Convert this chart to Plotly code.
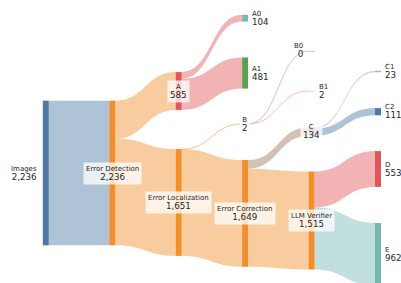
import plotly.graph_objects as go

# ---- data ----
node_names = ["Images", "Error Detection", "A", "Error Localization", "A0", "A1", "B",
              "Error Correction", "B0", "B1", "C", "LLM Verifier", "C1", "C2", "D", "E"]
link_source = [0, 1, 1, 2, 2, 3, 3, 6, 6, 7, 7, 10, 10, 11, 11]
link_target = [1, 2, 3, 4, 5, 6, 7, 8, 9, 10, 11, 12, 13, 14, 15]
link_value = [2236, 585, 1651, 104, 481, 2, 1649, 0, 2, 134, 1515, 23, 111, 553, 962]

# ---- styles / layout ----
W, H = 401, 283
node_colors = ["#4e79a7", "#f28e2b", "#e15759", "#f28e2b", "#76b7b2", "#59a14f", "#ff9da7",
               "#f28e2b", "#b07aa1", "#ff9da7", "#9c755f", "#f28e2b", "#bab0ac", "#4e79a7",
               "#e15759", "#76b7b2"]
BLUE = "rgba(78,121,167,0.45)"
ORANGE = "rgba(242,142,43,0.45)"
RED = "rgba(225,87,89,0.45)"
TEAL = "rgba(118,183,178,0.45)"
BROWN = "rgba(156,117,95,0.45)"
link_colors = [BLUE, ORANGE, ORANGE, RED, RED, "rgba(242,142,43,0.3)", ORANGE,
               "rgba(176,122,161,0.28)", "rgba(255,157,167,0.4)",
               BROWN, ORANGE, "rgba(140,120,110,0.35)", BLUE, RED, TEAL]

node_col = [0, 1, 2, 2, 3, 3, 3, 3, 4, 4, 4, 4, 5, 5, 5, 5]
node_center_px = [173, 173, 91, 202.5, 18.2, 73, 124, 213.4, 51, 91, 131.5, 220.5,
                  71.5, 111.7, 169, 254.1]
col_left_px, col_step_px = 45.8, 66.44
thickness = 6
px_per_unit = 0.06468
max_col_nodes = 8
pad = (H - px_per_unit * 2236) / (max_col_nodes - 1)

node_x = [(col_left_px + c * col_step_px) / W for c in node_col]
node_y = [p / H for p in node_center_px]

# node values from links
n = len(node_names)
inflow = [0] * n
outflow = [0] * n
for s, t, v in zip(link_source, link_target, link_value):
    outflow[s] += v
    inflow[t] += v
node_val = [max(a, b) for a, b in zip(inflow, outflow)]

draw_values = [max(v, 1e-3) for v in link_value]

fig = go.Figure(go.Sankey(
    arrangement="fixed",
    domain=dict(x=[0, 1], y=[0, 1]),
    node=dict(label=node_names, color=node_colors, x=node_x, y=node_y,
              pad=pad, thickness=thickness, line=dict(width=0)),
    link=dict(source=link_source, target=link_target, value=draw_values,
              color=link_colors, line=dict(width=0)),
    textfont=dict(color="rgba(0,0,0,0)", size=1),
))

font = dict(family="DejaVu Sans", size=7, color="#262626")
for i in range(n):
    txt = f"{node_names[i]}<br><span style='font-size:8.7px'>{node_val[i]:,}</span>"
    ax = node_x[i]
    ay = 1 - node_y[i]
    if inflow[i] == 0:
        fig.add_annotation(x=ax, y=ay, xref="paper", yref="paper", text=txt, showarrow=False,
                           xanchor="right", yanchor="middle", align="right", xshift=-7.5,
                           font=font, borderpad=0)
    elif outflow[i] == 0:
        fig.add_annotation(x=ax, y=ay, xref="paper", yref="paper", text=txt, showarrow=False,
                           xanchor="left", yanchor="middle", align="left", xshift=6,
                           font=font, borderpad=0)
    else:
        fig.add_annotation(x=ax, y=ay, xref="paper", yref="paper", text=txt, showarrow=False,
                           xanchor="center", yanchor="middle", align="center",
                           font=font, borderpad=2, bgcolor="rgba(255,255,255,0.75)")

fig.update_layout(width=W, height=H, margin=dict(l=0, r=0, t=0, b=0),
                  paper_bgcolor="white", plot_bgcolor="white", showlegend=False)
fig.write_html("out.html", config={"displayModeBar": False},
               post_script="document.body.style.margin='0';document.body.style.overflow='hidden';")
